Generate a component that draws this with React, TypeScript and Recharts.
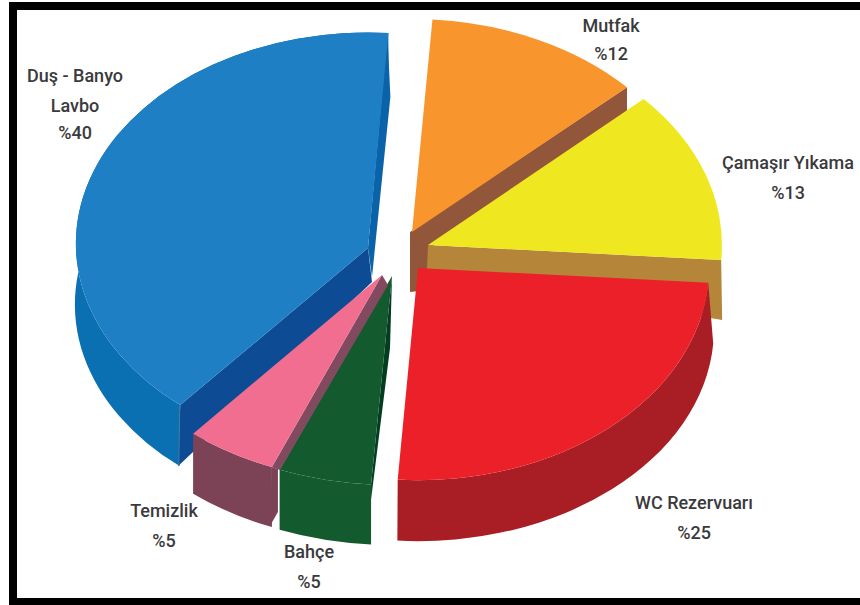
import React from 'react';
import { PieChart, Pie } from 'recharts';

// Water use by household area, in percent.
const CATEGORIES = ['Duş - Banyo Lavbo', 'Mutfak', 'Çamaşır Yıkama', 'WC Rezervuarı', 'Bahçe', 'Temizlik'];
const VALUES = [40, 12, 13, 25, 5, 5];
const LABEL_LINES = [['Duş - Banyo', 'Lavbo'], ['Mutfak'], ['Çamaşır Yıkama'], ['WC Rezervuarı'], ['Bahçe'], ['Temizlik']];

const WIDTH = 860;
const HEIGHT = 605;
const PIE_CX = 390;
const PIE_CY = 250;
const PIE_R = 293;
const FONT = 'Roboto, sans-serif';

type Anchor = 'tip' | 'start' | 'end';
type WallPoint = [Anchor, number, number];
interface Wall { color: string; points: WallPoint[] }
interface SliceStyle {
  top: string;
  side: string;
  dx: number; // explode offset from the pie centre
  dy: number;
  tipDy: number; // apex of the wedge relative to the disc centre
  kx: number; // horizontal and vertical squash of the disc
  ky: number;
  depth: number;
  rimGrow: number; // extra width of the rim's lower arc
  walls: Wall[];
}

const SLICE_STYLES: SliceStyle[] = [
  {
    top: '#1f7fc4', side: '#0b70b2', dx: -22, dy: -6.5, tipDy: 4.5, kx: 0.997, ky: 0.72, depth: 61, rimGrow: 1,
    walls: [
      { color: '#0a62a8', points: [['tip', 0, 0], ['end', -1, 0], ['end', 2, 64], ['tip', 4, 29]] },
      { color: '#0d4c94', points: [['tip', 0, 0], ['start', 0, 0], ['start', -2, 61], ['tip', 4, 34]] },
      { color: '#4b7ba6', points: [['start', -1, 1], ['start', 0, 1], ['start', -1, 61], ['start', -2, 61]] },
    ],
  },
  {
    top: '#f8962d', side: '#92573a', dx: 22, dy: -18, tipDy: 0, kx: 1, ky: 0.727, depth: 0, rimGrow: 0,
    walls: [
      { color: '#92573a', points: [['tip', -2, 0], ['end', 0, 0], ['end', 0, 24], ['tip', 17, 17], ['tip', 17, 58], ['tip', -2, 60]] },
    ],
  },
  {
    top: '#efe71f', side: '#b5863a', dx: 38, dy: -5, tipDy: 0, kx: 1.003, ky: 0.734, depth: 0, rimGrow: 0,
    walls: [
      { color: '#b5863a', points: [['tip', 0, 0], ['end', 0, 0], ['end', 1, 60], ['tip', -1, 25]] },
    ],
  },
  {
    top: '#ec2029', side: '#a81e24', dx: 28, dy: 18, tipDy: 0, kx: 0.993, ky: 0.724, depth: 61, rimGrow: 5,
    walls: [],
  },
  {
    top: '#135a2f', side: '#135a2f', dx: 2, dy: 26, tipDy: 0, kx: 1.024, ky: 0.713, depth: 60, rimGrow: 0,
    walls: [
      { color: '#033d20', points: [['tip', 0, 0], ['start', 0, 0], ['start', 0, 15], ['tip', -2, 72]] },
    ],
  },
  {
    top: '#f26e91', side: '#7c4356', dx: -8, dy: 25, tipDy: 0, kx: 1.003, ky: 0.707, depth: 60, rimGrow: 0,
    walls: [
      { color: '#824a5e', points: [['tip', 0, 0], ['start', 0, 0], ['start', 8, 3], ['tip', 6, 10]] },
      { color: '#7c4356', points: [['start', 0, 0], ['start', -2, 59], ['start', 6, 45], ['start', 6, 2]] },
    ],
  },
];

// Centre of each slice's text lines plus its percentage, with one baseline per line.
const LABEL_SPOTS = [
  { x: 75, baselines: [82, 112, 139] },
  { x: 611, baselines: [32, 60] },
  { x: 788, baselines: [169, 199] },
  { x: 694, baselines: [509, 539] },
  { x: 309, baselines: [558, 588] },
  { x: 164, baselines: [517, 547] },
];

const rows = CATEGORIES.map((name, i) => ({ name, value: VALUES[i] }));

const DEG = Math.PI / 180;

// Draws one wedge as an elliptical disc segment with its extruded rim and cut faces.
function Slice3D(props: any) {
  const { startAngle, endAngle, outerRadius, cx, cy, name } = props;
  const s = SLICE_STYLES[CATEGORIES.indexOf(name)];
  const ox = cx + s.dx;
  const oy = cy + s.dy;
  const tipY = oy + s.tipDy;
  const rx = outerRadius * s.kx;
  const ry = outerRadius * s.ky;
  const at = (deg: number, r = rx) => [ox + r * Math.cos(deg * DEG), oy - ry * Math.sin(deg * DEG)];
  const a = at(startAngle);
  const b = at(endAngle);
  const a2 = at(startAngle, rx + s.rimGrow);
  const b2 = at(endAngle, rx + s.rimGrow);
  const large = Math.abs(startAngle - endAngle) > 180 ? 1 : 0;
  const anchors: Record<Anchor, number[]> = { tip: [ox, tipY], start: a, end: b };
  const top = `M${ox},${tipY} L${a[0]},${a[1]} A${rx},${ry} 0 ${large} 1 ${b[0]},${b[1]} Z`;
  const rim = `M${a[0]},${a[1]} A${rx},${ry} 0 ${large} 1 ${b[0]},${b[1]} L${b2[0]},${b2[1] + s.depth} A${rx + s.rimGrow},${ry} 0 ${large} 0 ${a2[0]},${a2[1] + s.depth} Z`;
  return (
    <g>
      {s.depth > 0 && <path d={rim} fill={s.side} />}
      {s.walls.map((w, i) => (
        <polygon
          key={i}
          fill={w.color}
          points={w.points.map(([k, px, py]) => `${anchors[k][0] + px},${anchors[k][1] + py}`).join(' ')}
        />
      ))}
      <path d={top} fill={s.top} />
    </g>
  );
}

function SliceLabel(props: any) {
  const i = CATEGORIES.indexOf(props.name);
  const spot = LABEL_SPOTS[i];
  const lines = [...LABEL_LINES[i], `%${VALUES[i]}`];
  return (
    <g>
      {lines.map((line, k) => (
        <text
          key={k}
          x={spot.x}
          y={spot.baselines[k]}
          textAnchor="middle"
          fontFamily={FONT}
          fontSize={18}
          fontWeight={500}
          fill="#3a3a3c"
        >
          {line}
        </text>
      ))}
    </g>
  );
}

export default function App() {
  return (
    <div style={{ position: 'absolute', left: 0, top: 0, width: WIDTH, height: HEIGHT, background: '#fff', overflow: 'hidden' }}>
      <div
        style={{
          position: 'absolute',
          left: 9,
          top: 2,
          right: 0,
          bottom: 0,
          borderLeft: '8px solid #000',
          borderTop: '8px solid #000',
          borderBottom: '7px solid #000',
        }}
      />
      <div style={{ position: 'absolute', left: 0, top: 0 }}>
        <PieChart width={WIDTH} height={HEIGHT} margin={{ top: 0, right: 0, bottom: 0, left: 0 }}>
          <Pie
            data={rows}
            dataKey="value"
            nameKey="name"
            cx={PIE_CX}
            cy={PIE_CY}
            outerRadius={PIE_R}
            startAngle={230}
            endAngle={-130}
            stroke="none"
            shape={Slice3D}
            label={SliceLabel}
            labelLine={false}
            isAnimationActive={false}
          />
        </PieChart>
      </div>
    </div>
  );
}
